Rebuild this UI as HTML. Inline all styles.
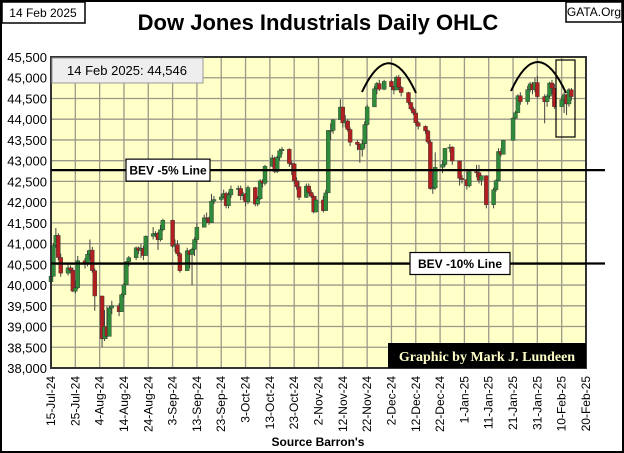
<!DOCTYPE html>
<html><head><meta charset="utf-8"><style>
html,body{margin:0;padding:0;background:#fff;}
svg{display:block;font-family:"Liberation Sans",sans-serif;}
</style></head><body>
<svg id="chart" width="624" height="453" viewBox="0 0 624 453">
<rect x="1" y="1" width="622" height="451" fill="#fff" stroke="#000" stroke-width="2"/>
<rect x="2" y="2" width="83" height="21" fill="#fff" stroke="#000" stroke-width="1.5"/>
<text x="43" y="17" font-size="12" text-anchor="middle">14 Feb 2025</text>
<rect x="566" y="2" width="56" height="20" fill="#fff" stroke="#000" stroke-width="1.5"/>
<text x="594" y="16" font-size="12" text-anchor="middle">GATA.Org</text>
<text x="318" y="30" font-size="22" font-weight="bold" text-anchor="middle">Dow Jones Industrials Daily OHLC</text>
<rect x="51" y="57" width="535" height="311" fill="#ffffc8"/>
<g id="grid"></g>
<g id="candles"></g>
<g id="axes"></g>
<rect x="51" y="57" width="535" height="311" fill="none" stroke="#333" stroke-width="2"/>
<rect x="52" y="58" width="151" height="25" fill="#eeeeee" stroke="#999" stroke-width="1"/>
<text x="127" y="75" font-size="13" text-anchor="middle">14 Feb 2025:  44,546</text>
<g id="bev"></g>
<path d="M362,92 Q389,34 416,93" fill="none" stroke="#000" stroke-width="2"/>
<path d="M511,91 Q538,32 566,93" fill="none" stroke="#000" stroke-width="2"/>
<rect x="556" y="60" width="19" height="77" fill="none" stroke="#000" stroke-width="1.2"/>
<rect x="388" y="343" width="198" height="25" fill="#000"/>
<text x="487" y="361" font-size="14" font-weight="bold" fill="#ffffc8" text-anchor="middle" font-family="Liberation Serif,serif">Graphic by Mark J. Lundeen</text>
<text x="318" y="446" font-size="12" font-weight="bold" text-anchor="middle">Source Barron's</text>
</svg>
<script>
const dates=["2024-07-15","2024-07-16","2024-07-17","2024-07-18","2024-07-19","2024-07-22","2024-07-23","2024-07-24","2024-07-25","2024-07-26","2024-07-29","2024-07-30","2024-07-31","2024-08-01","2024-08-02","2024-08-05","2024-08-06","2024-08-07","2024-08-08","2024-08-09","2024-08-12","2024-08-13","2024-08-14","2024-08-15","2024-08-16","2024-08-19","2024-08-20","2024-08-21","2024-08-22","2024-08-23","2024-08-26","2024-08-27","2024-08-28","2024-08-29","2024-08-30","2024-09-03","2024-09-04","2024-09-05","2024-09-06","2024-09-09","2024-09-10","2024-09-11","2024-09-12","2024-09-13","2024-09-16","2024-09-17","2024-09-18","2024-09-19","2024-09-20","2024-09-23","2024-09-24","2024-09-25","2024-09-26","2024-09-27","2024-09-30","2024-10-01","2024-10-02","2024-10-03","2024-10-04","2024-10-07","2024-10-08","2024-10-09","2024-10-10","2024-10-11","2024-10-14","2024-10-15","2024-10-16","2024-10-17","2024-10-18","2024-10-21","2024-10-22","2024-10-23","2024-10-24","2024-10-25","2024-10-28","2024-10-29","2024-10-30","2024-10-31","2024-11-01","2024-11-04","2024-11-05","2024-11-06","2024-11-07","2024-11-08","2024-11-11","2024-11-12","2024-11-13","2024-11-14","2024-11-15","2024-11-18","2024-11-19","2024-11-20","2024-11-21","2024-11-22","2024-11-25","2024-11-26","2024-11-27","2024-11-29","2024-12-02","2024-12-03","2024-12-04","2024-12-05","2024-12-06","2024-12-09","2024-12-10","2024-12-11","2024-12-12","2024-12-13","2024-12-16","2024-12-17","2024-12-18","2024-12-19","2024-12-20","2024-12-23","2024-12-24","2024-12-26","2024-12-27","2024-12-30","2024-12-31","2025-01-02","2025-01-03","2025-01-06","2025-01-07","2025-01-08","2025-01-10","2025-01-13","2025-01-14","2025-01-15","2025-01-16","2025-01-17","2025-01-21","2025-01-22","2025-01-23","2025-01-24","2025-01-27","2025-01-28","2025-01-29","2025-01-30","2025-01-31","2025-02-03","2025-02-04","2025-02-05","2025-02-06","2025-02-07","2025-02-10","2025-02-11","2025-02-12","2025-02-13","2025-02-14"];
const opens=[40080,40212,40954,41198,40665,40288,40415,40358,39854,39935,40589,40540,40743,40843,40348,39737,38703,38997,38763,39446,39498,39357,39766,40008,40563,40660,40897,40834,40890,40712,41175,41240,41250,41092,41335,41563,40937,40975,40756,40345,40830,40737,40861,41097,41394,41622,41606,41503,42025,42063,42124,42208,41915,42175,42313,42330,42156,42197,42011,42352,41954,42080,42512,42454,42864,43065,42740,43077,43239,43276,42931,42924,42515,42374,42114,42387,42233,42142,41763,42052,41794,42222,43729,43729,43989,44293,43911,43958,43751,43445,43390,43269,43408,43870,44297,44736,44860,44722,44911,44782,44705,45014,44766,44643,44401,44248,44149,43915,43828,43717,43450,42327,42343,42840,42907,43297,43326,42992,42574,42544,42392,42732,42707,42528,42636,41938,42297,42518,43222,43153,43488,44026,44157,44565,44424,44714,44851,44714,44883,44545,44422,44556,44873,44748,44303,44470,44593,44368,44711];
const highs=[40350,41010,41376,41250,40760,40500,40470,40420,40120,40700,40650,40830,41100,40920,40400,39740,39400,39480,39500,39620,39560,39800,40050,40580,40700,40930,40930,40990,40950,41200,41400,41300,41280,41450,41600,41580,41100,41080,40800,40900,40850,40900,41150,41500,41700,41750,41650,42200,42150,42200,42300,42250,42250,42400,42400,42400,42250,42220,42400,42370,42150,42550,42550,42900,43140,43100,43120,43290,43330,43300,42980,42950,42600,42500,42450,42450,42300,42180,42150,42150,42300,43730,43900,44000,44480,44300,44100,44000,43800,43500,43400,43500,43950,44350,44800,44900,44950,44950,44950,44800,45050,45070,44800,44660,44420,44300,44200,43960,43850,43750,43500,42750,43200,43000,43300,43400,43350,43000,42650,42800,42800,42900,42900,42650,42650,42350,42550,43300,43300,43500,44050,44200,44600,44650,44800,44900,44900,45000,45050,44600,44600,44900,44950,44850,44550,44650,44600,44750,44750];
const lows=[39980,40200,40900,40600,40200,40230,40280,39830,39800,39900,40400,40450,40600,40300,39380,38500,38650,38700,38800,39300,39250,39350,39700,40050,40450,40600,40750,40650,40600,40750,41100,41150,40850,41050,41300,40900,40800,40700,40300,40400,40400,40000,40700,41000,41400,41500,41450,41500,41950,42000,42100,41850,41850,42100,42150,42050,42050,41900,41950,41900,41900,42050,42350,42400,42850,42700,42700,43000,43150,42850,42650,42450,42300,42050,42100,42200,42100,41730,41750,41750,41800,42250,43500,43650,44000,43800,43800,43700,43350,43250,42950,43100,43300,43850,44300,44600,44680,44700,44700,44600,44700,44700,44550,44350,44200,44100,43850,43750,43650,43400,42300,42200,42300,42700,42850,43200,42900,42400,42450,42300,42350,42600,42450,42400,41850,41850,42250,42500,43100,43150,43500,44000,44150,44350,44350,44650,44600,44650,44500,43900,44300,44500,44600,44250,44300,44150,44100,44300,44450];
const closes=[40212,40954,41198,40665,40288,40415,40358,39854,39935,40589,40540,40743,40843,40348,39737,38703,38997,38763,39446,39498,39357,39766,40008,40563,40660,40897,40834,40890,40712,41175,41240,41250,41092,41335,41563,40937,40975,40756,40345,40830,40737,40861,41097,41394,41622,41606,41503,42025,42063,42124,42208,41915,42175,42313,42330,42156,42197,42011,42352,41954,42080,42512,42454,42864,43065,42740,43077,43239,43276,42931,42924,42515,42374,42114,42387,42233,42142,41763,42052,41794,42222,43729,43729,43989,44293,43911,43958,43751,43445,43390,43269,43408,43870,44297,44736,44860,44722,44911,44782,44705,45014,44766,44643,44401,44248,44149,43915,43828,43717,43450,42327,42343,42840,42907,43297,43326,42992,42574,42544,42392,42732,42707,42528,42636,41938,42297,42518,43222,43153,43488,44026,44157,44565,44424,44714,44851,44714,44883,44545,44422,44556,44873,44748,44303,44470,44593,44368,44711,44546];
const yTicks=[38000,38500,39000,39500,40000,40500,41000,41500,42000,42500,43000,43500,44000,44500,45000,45500];
const xTickLabels=["15-Jul-24","25-Jul-24","4-Aug-24","14-Aug-24","24-Aug-24","3-Sep-24","13-Sep-24","23-Sep-24","3-Oct-24","13-Oct-24","23-Oct-24","2-Nov-24","12-Nov-24","22-Nov-24","2-Dec-24","12-Dec-24","22-Dec-24","1-Jan-25","11-Jan-25","21-Jan-25","31-Jan-25","10-Feb-25","20-Feb-25"];
const bevLevels=[42772,40520];
const bevLabels=["BEV -5% Line","BEV -10% Line"];

const NS="http://www.w3.org/2000/svg";
const X0=51,X1=586,Y0=368,Y1=57,YMIN=38000,YMAX=45500;
const D0=Date.UTC(2024,6,15),DAYS=220;
function dayOf(s){const p=s.split("-");return (Date.UTC(+p[0],+p[1]-1,+p[2])-D0)/86400000;}
function xs(d){return X0+(X1-X0)*d/DAYS;}
function ys(v){return Y0-(Y0-Y1)*(v-YMIN)/(YMAX-YMIN);}
function mk(tag,attrs,parent){const e=document.createElementNS(NS,tag);for(const k in attrs)e.setAttribute(k,attrs[k]);parent.appendChild(e);return e;}
const grid=document.getElementById("grid"),axes=document.getElementById("axes"),cg=document.getElementById("candles"),bev=document.getElementById("bev");
yTicks.forEach(v=>{
  const l=mk("line",{x1:X0,x2:X1,y1:ys(v),y2:ys(v),stroke:"#9a9a8a","stroke-width":1.3},grid);
  
  
  const t=mk("text",{x:X0-4,y:ys(v)+5,"font-size":13,"text-anchor":"end"},axes);
  t.textContent=v.toLocaleString("en-US");
  
  
});
xTickLabels.forEach((s,i)=>{
  const x=xs(i*10);
  const l=mk("line",{x1:x,x2:x,y1:Y1,y2:Y0,stroke:"#9a9a8a","stroke-width":1.3},grid);
  
  
  const t=mk("text",{x:0,y:0,"font-size":12,"text-anchor":"end",transform:"translate("+(x+4)+","+(Y0+8)+") rotate(-90)"},axes);
  t.textContent=s;
  
  
});
const n=Math.min(dates.length,opens.length,highs.length,lows.length,closes.length);
for(let i=0;i<n;i++){
  const x=xs(dayOf(dates[i])),o=opens[i],c=closes[i];
  const up=c>=o;
  const w=mk("line",{x1:x,x2:x,y1:ys(highs[i]),y2:ys(lows[i]),stroke:"#444","stroke-width":1},cg);
  
  
  const top=ys(Math.max(o,c)),bot=ys(Math.min(o,c));
  const b=mk("rect",{x:x-2,y:top,width:4,height:Math.max(1,bot-top),fill:up?"#2e8b3a":"#b02020",stroke:"#333","stroke-width":0.4},cg);
  
  
}
const labelPos=[[126,84],[410,100]];
bevLevels.forEach((v,i)=>{
  const y=ys(v);
  const l=mk("line",{x1:X0,x2:605,y1:y,y2:y,stroke:"#000","stroke-width":2.2},bev);
  
  
  const r=mk("rect",{x:labelPos[i][0],y:y-11,width:labelPos[i][1],height:22,fill:"#fff",stroke:"#000","stroke-width":1.2},bev);
  
  
  const t=mk("text",{x:labelPos[i][0]+labelPos[i][1]/2,y:y+4.5,"font-size":12,"font-weight":"bold","text-anchor":"middle"},bev);
  t.textContent=bevLabels[i];
  
  
});
</script>
</body></html>
